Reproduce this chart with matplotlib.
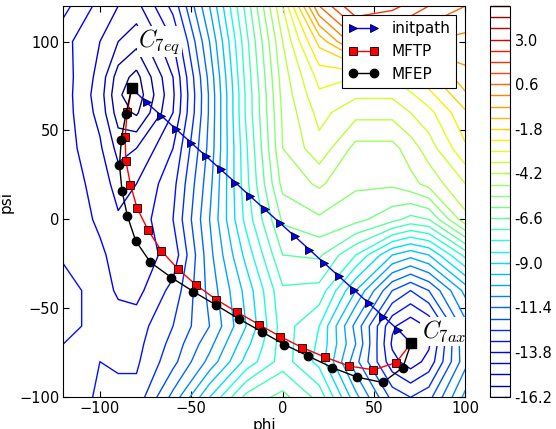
import numpy as np
import matplotlib
matplotlib.use("Agg")
import matplotlib.pyplot as plt

plt.rcParams['mathtext.fontset'] = 'cm'
plt.rcParams['font.size'] = 10.5

# grid of the free energy surface
phi_grid = [-120, -100, -90, -80, -60, -40, -20, 0, 20, 40, 60, 70, 80, 100]
psi_grid = [120, 100, 80, 70, 60, 40, 20, 0, -20, -40, -60, -70, -80, -100]
energy = [
  [-13.0, -14.0, -14.4, -14.6, -13.0, -10.2, -7.0, -3.6, 0.6, 2.4, 2.0, 1.6, 1.2, 0.6],
  [-13.6, -14.4, -15.0, -15.4, -13.8, -10.8, -7.4, -4.2, -1.6, 0.4, 0.4, 0.2, 0.0, -0.2],
  [-13.5, -14.6, -15.9, -16.4, -14.4, -11.2, -7.6, -4.5, -2.8, -3.0, -3.0, -2.5, -2.0, -0.8],
  [-13.5, -14.7, -16.1, -16.6, -14.5, -11.3, -7.7, -4.6, -3.1, -3.5, -3.5, -3.1, -2.6, -1.3],
  [-13.5, -14.6, -15.9, -16.3, -14.4, -11.3, -7.7, -4.7, -3.4, -4.0, -4.0, -3.6, -3.2, -1.9],
  [-13.5, -14.3, -15.2, -15.0, -13.8, -11.2, -7.9, -4.8, -3.8, -5.0, -5.0, -4.5, -3.9, -2.5],
  [-13.5, -14.0, -14.7, -14.4, -13.4, -11.0, -8.0, -5.2, -4.7, -5.3, -5.3, -5.0, -4.6, -3.6],
  [-13.4, -13.9, -14.3, -14.2, -13.2, -10.8, -8.2, -5.9, -5.5, -5.8, -6.4, -6.8, -6.6, -4.4],
  [-13.3, -13.7, -14.0, -14.1, -13.6, -11.0, -8.8, -6.6, -6.5, -7.8, -9.6, -10.0, -9.6, -7.6],
  [-12.9, -13.5, -13.9, -14.0, -13.0, -11.2, -9.4, -7.3, -7.4, -9.6, -12.0, -12.6, -12.0, -10.0],
  [-13.0, -13.4, -13.5, -13.5, -12.6, -11.4, -9.6, -7.5, -8.4, -11.0, -13.7, -14.2, -13.7, -11.0],
  [-13.2, -13.2, -13.4, -13.4, -12.4, -11.0, -9.2, -7.5, -8.5, -10.8, -13.9, -14.3, -13.9, -10.9],
  [-13.3, -13.2, -13.3, -13.3, -12.2, -10.6, -8.8, -7.5, -8.6, -11.2, -13.6, -14.1, -13.6, -11.0],
  [-13.6, -13.1, -13.0, -13.0, -11.2, -9.0, -7.0, -6.4, -7.4, -10.0, -12.2, -12.6, -12.2, -10.0],
]

# paths
init_phi = [-82.6, -74.5, -66.4, -58.3, -50.2, -42.1, -34.0, -25.9, -17.8, -9.7,
            -1.6, 6.5, 14.6, 22.7, 30.8, 38.9, 47.0, 55.1, 63.2, 70.3]
init_psi = [73.7, 65.8, 58.3, 50.7, 43.2, 35.7, 28.2, 20.7, 13.1, 5.6,
            -1.9, -9.4, -17.0, -24.5, -32.0, -39.5, -47.0, -54.6, -62.1, -69.6]
mftp_phi = [-82.6, -85.1, -86.2, -85.8, -83.3, -79.7, -73.6, -66.4, -57.4, -47.2,
            -36.3, -24.8, -13.0, -1.2, 10.8, 23.4, 36.2, 49.7, 62.1, 70.3]
mftp_psi = [73.7, 60.2, 46.5, 32.9, 19.6, 6.5, -6.1, -17.6, -27.8, -37.0,
            -45.1, -52.2, -59.1, -65.9, -72.1, -77.5, -82.4, -84.6, -80.5, -69.6]
mfep_phi = [-82.6, -85.8, -88.3, -89.3, -87.9, -85.0, -80.4, -72.4, -60.9, -48.8,
            -36.4, -24.0, -11.4, 1.0, 14.1, 27.1, 40.8, 54.8, 65.8, 70.3]
mfep_psi = [73.7, 59.3, 44.8, 30.6, 16.0, 2.0, -12.1, -24.1, -32.7, -40.6,
            -48.2, -55.9, -63.2, -70.4, -76.9, -83.3, -88.7, -91.7, -83.3, -69.6]

levels = np.round(np.arange(-16.2, 5.0, 0.6), 1)

fig = plt.figure(figsize=(5.56, 4.29), dpi=100)
ax = fig.add_axes([0.114, 0.074, 0.723, 0.912])
cax = fig.add_axes([0.881, 0.075, 0.036, 0.911])

X, Y = np.meshgrid(phi_grid, psi_grid)
cs = ax.contour(X, Y, np.array(energy), levels=levels, cmap='jet', linewidths=1.0)

ax.plot(init_phi, init_psi, color='blue', marker='>', markersize=6, markeredgecolor='black',
        markeredgewidth=0.6, lw=1.0, label='initpath', zorder=3)
ax.plot(mftp_phi, mftp_psi, color='red', marker='s', markersize=6, markeredgecolor='black',
        markeredgewidth=0.6, lw=1.0, label='MFTP', zorder=4)
ax.plot(mfep_phi, mfep_psi, color='black', marker='o', markersize=6, lw=1.0,
        label='MFEP', zorder=4)
# end points
ax.plot([init_phi[0], init_phi[-1]], [init_psi[0], init_psi[-1]], 'ks', markersize=7, zorder=5)

ax.text(-79, 100, r'$C_{7eq}$', fontsize=17, va='center', ha='left',
        bbox=dict(fc='white', ec='none', pad=1), zorder=2)
ax.text(76, -63, r'$C_{7ax}$', fontsize=17, va='center', ha='left',
        bbox=dict(fc='white', ec='none', pad=1), zorder=2)

ax.set_xlim(-120, 100)
ax.set_ylim(-100, 120)
ax.set_xticks([-100, -50, 0, 50, 100])
ax.set_yticks([-100, -50, 0, 50, 100])
ax.tick_params(direction='in', top=True, right=True, length=4, pad=3)
ax.set_xlabel('phi', fontsize=11, labelpad=1)
ax.set_ylabel('psi', fontsize=11)

leg = ax.legend(loc='upper right', numpoints=2, fancybox=False, fontsize=11,
                framealpha=1, edgecolor='black', borderaxespad=0.6)
leg.get_frame().set_linewidth(0.8)

cb = fig.colorbar(cs, cax=cax, ticks=levels[::4])
cb.ax.tick_params(direction='in', length=4)
cb.ax.set_yticklabels(['%.1f' % v for v in levels[::4]])

fig.savefig('out.png', dpi=100)
